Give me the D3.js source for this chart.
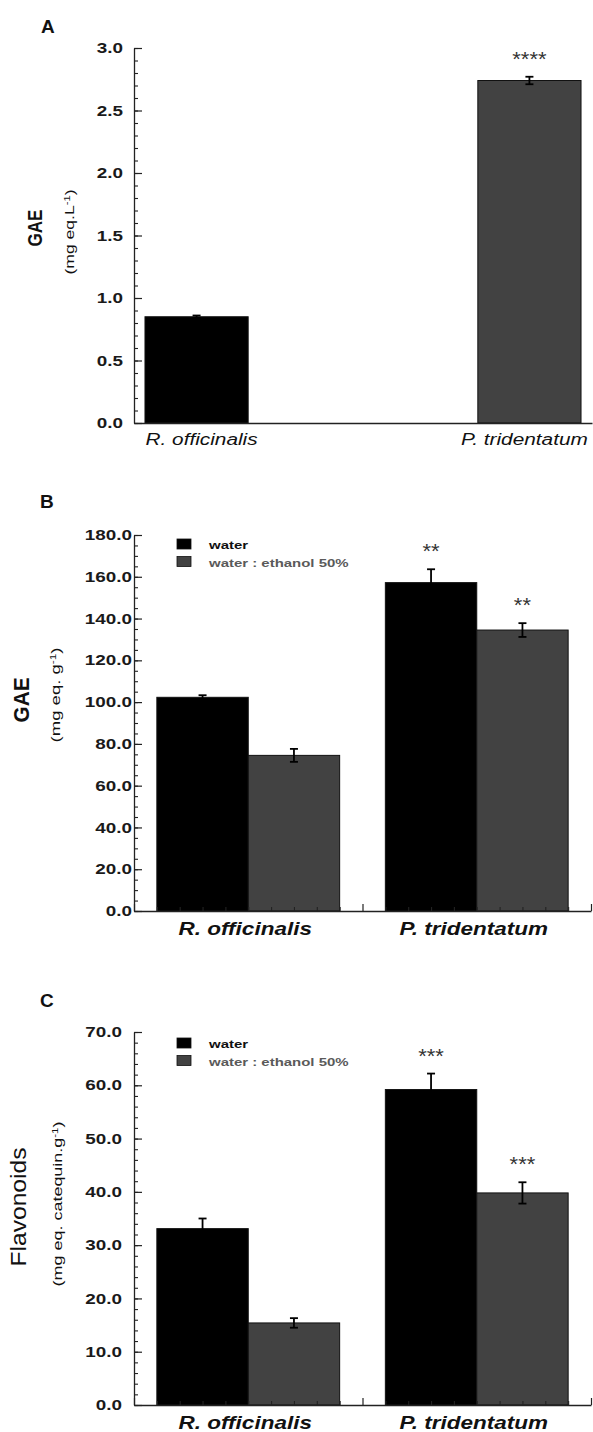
<!DOCTYPE html>
<html>
<head>
<meta charset="utf-8">
<script src="https://cdn.jsdelivr.net/npm/d3@7"></script>
<style>
  body { margin: 0; background: #fff; }
  svg { display: block; font-family: "Liberation Sans", Arial, sans-serif; }
</style>
</head>
<body>
<svg id="chart" width="593" height="1432"></svg>
<script>
// Categories
var species = ["R. officinalis", "P. tridentatum"];
var solvents = ["water", "water : ethanol 50%"];

// A: GAE, mg eq.L-1
var gaeL = [0.85, 2.74];
var gaeLErr = [0.01, 0.03];
var gaeLSig = ["", "****"];
var gaeLTicks = ["0.0", "0.5", "1.0", "1.5", "2.0", "2.5", "3.0"];

// B: GAE, mg eq. g-1
var gaeWater = [102.3, 157.2];
var gaeWaterErr = [1.0, 6.4];
var gaeEthanol = [74.5, 134.5];
var gaeEthanolErr = [3.1, 3.3];
var gaeWaterSig = ["", "**"];
var gaeEthanolSig = ["", "**"];
var gaeTicks = ["0.0", "20.0", "40.0", "60.0", "80.0", "100.0", "120.0", "140.0", "160.0", "180.0"];

// C: Flavonoids, mg eq. catequin.g-1
var flavWater = [33.1, 59.2];
var flavWaterErr = [1.9, 3.0];
var flavEthanol = [15.4, 39.8];
var flavEthanolErr = [0.9, 2.0];
var flavWaterSig = ["", "***"];
var flavEthanolSig = ["", "***"];
var flavTicks = ["0.0", "10.0", "20.0", "30.0", "40.0", "50.0", "60.0", "70.0"];

var colors = ["#000000", "#424242"];
var svg = d3.select("#chart");

// widen text horizontally (the original figure is stretched)
function stretch(sel, k) {
  sel.each(function() {
    var w = this.getComputedTextLength();
    d3.select(this).attr("textLength", w * k).attr("lengthAdjust", "spacingAndGlyphs");
  });
}

function panelLetter(t, x, y) {
  svg.append("text").attr("x", x).attr("y", y)
     .style("font-size", "19px").style("font-weight", "bold").attr("fill", "#111")
     .text(t);
}

// rotated y title: main word plus unit line with superscript -1
function yTitle(p) {
  var t = svg.append("text")
     .attr("transform", "translate(" + p.tx + "," + p.ty + ") scale(" + p.sx + ",1) rotate(-90)")
     .attr("text-anchor", "middle")
     .style("font-size", p.tsize + "px").style("font-weight", p.tweight)
     .attr("fill", "#111")
     .text(p.title);
  t.attr("textLength", p.tlen).attr("lengthAdjust", "spacingAndGlyphs");

  var u = svg.append("text")
     .attr("transform", "translate(" + p.ux + "," + p.uy + ") scale(1.2,1) rotate(-90)")
     .attr("text-anchor", "middle")
     .style("font-size", "11px").attr("fill", "#111");
  u.append("tspan").text(p.unit[0]);
  u.append("tspan").attr("baseline-shift", "super").style("font-size", "7px").text("-1");
  u.append("tspan").text(")");
  u.attr("textLength", p.ulen).attr("lengthAdjust", "spacingAndGlyphs");
}

function yAxis(y, p, ticks, minorStep) {
  var vals = ticks.map(Number);
  var max = d3.max(vals);
  var ax = svg.append("g").attr("transform", "translate(" + p.left + ",0)")
     .call(d3.axisLeft(y).tickValues(vals)
       .tickFormat(function(d, i) { return ticks[i]; })
       .tickSizeInner(-8).tickSizeOuter(0).tickPadding(p.gap));
  ax.select(".domain").attr("stroke", "#222").attr("stroke-width", 1.3);
  ax.selectAll(".tick line").attr("stroke", "#222").attr("stroke-width", 1.2);
  ax.selectAll(".tick text")
    .attr("fill", "#1a1a1a").attr("font-size", null).attr("font-family", null)
    .style("font-size", "14.5px").style("font-weight", "bold")
    .call(stretch, 1.3);
  ax.attr("font-size", null).attr("font-family", null);

  var minor = d3.range(0, max + minorStep / 2, minorStep);
  var mi = svg.append("g").attr("transform", "translate(" + p.left + ",0)")
     .call(d3.axisLeft(y).tickValues(minor).tickSize(-4).tickFormat(""));
  mi.select(".domain").remove();
  mi.selectAll(".tick line").attr("stroke", "#222").attr("stroke-width", 1.1);
}

function errorBars(g, rows, y) {
  var eb = g.selectAll("g.err").data(rows).enter().append("g").attr("class", "err")
     .attr("stroke", "#000").attr("stroke-width", 1.8);
  eb.append("line")
    .attr("x1", function(d) { return d.cx; }).attr("x2", function(d) { return d.cx; })
    .attr("y1", function(d) { return y(d.v - d.e); }).attr("y2", function(d) { return y(d.v + d.e); });
  eb.append("line")
    .attr("x1", function(d) { return d.cx - 4; }).attr("x2", function(d) { return d.cx + 4; })
    .attr("y1", function(d) { return y(d.v + d.e); }).attr("y2", function(d) { return y(d.v + d.e); });
  eb.append("line")
    .attr("x1", function(d) { return d.cx - 4; }).attr("x2", function(d) { return d.cx + 4; })
    .attr("y1", function(d) { return y(d.v - d.e); }).attr("y2", function(d) { return y(d.v - d.e); });

  g.selectAll("text.sig").data(rows.filter(function(d) { return d.sig; })).enter()
   .append("text").attr("class", "sig")
   .attr("x", function(d) { return d.cx; })
   .attr("y", function(d) { return y(d.v + d.e) - 11; })
   .attr("text-anchor", "middle").attr("fill", "#333")
   .style("font-size", "20px")
   .text(function(d) { return d.sig; })
   .call(stretch, 1.1);
}

// ---------- Panel A ----------
function drawA() {
  var p = {top: 48, bottom: 423, left: 134, right: 592, gap: 11};
  var y = d3.scaleLinear().domain([0, 3]).range([p.bottom, p.top]);
  var x = d3.scaleBand().domain(species).range([p.left, p.right])
            .paddingInner(0.69).paddingOuter(0.033);

  var rows = species.map(function(s, i) {
    return {sp: s, v: gaeL[i], e: gaeLErr[i], sig: gaeLSig[i], c: colors[i],
            cx: x(s) + x.bandwidth() / 2};
  });
  var g = svg.append("g");
  g.selectAll("rect").data(rows).enter().append("rect")
   .attr("x", function(d) { return x(d.sp); })
   .attr("y", function(d) { return y(d.v); })
   .attr("width", x.bandwidth())
   .attr("height", function(d) { return y(0) - y(d.v); })
   .attr("fill", function(d) { return d.c; })
   .attr("stroke", "#111").attr("stroke-width", 1);
  errorBars(g, rows, y);

  var xa = svg.append("g").attr("transform", "translate(0," + p.bottom + ")")
     .call(d3.axisBottom(x).tickValues([]).tickSizeOuter(0));
  xa.select(".domain").attr("stroke", "#222").attr("stroke-width", 1.3);

  yAxis(y, p, gaeLTicks, 0.1);

  svg.selectAll("text.xa").data(rows).enter().append("text").attr("class", "xa")
     .attr("x", function(d, i) { return d.cx + (i ? -5 : 5); }).attr("y", p.bottom + 22)
     .attr("text-anchor", "middle").attr("fill", "#111")
     .style("font-size", "16px").style("font-style", "italic")
     .text(function(d) { return d.sp; })
     .call(stretch, 1.3);

  panelLetter("A", 41, 33);
  yTitle({title: "GAE", tx: 42, ty: 228, sx: 1.3, tsize: 16, tweight: "bold", tlen: 37,
          unit: ["(mg eq.L"], ux: 74, uy: 232, ulen: 85});
}

// ---------- Panels B and C ----------
function drawGrouped(p) {
  var max = d3.max(p.ticks.map(Number));
  var y = d3.scaleLinear().domain([0, max]).range([p.bottom, p.top]);
  var x0 = d3.scaleBand().domain(species).range([p.left, p.right])
             .paddingInner(0.2).paddingOuter(0.1);
  var x1 = d3.scaleBand().domain(solvents).range([0, x0.bandwidth()]);

  var rows = [];
  species.forEach(function(s, i) {
    solvents.forEach(function(k, j) {
      rows.push({sp: s, sol: k, v: p.values[j][i], e: p.errs[j][i], sig: p.sigs[j][i],
                 c: colors[j], x: x0(s) + x1(k), cx: x0(s) + x1(k) + x1.bandwidth() / 2});
    });
  });

  var g = svg.append("g");
  g.selectAll("rect").data(rows).enter().append("rect")
   .attr("x", function(d) { return d.x; })
   .attr("y", function(d) { return y(d.v); })
   .attr("width", x1.bandwidth())
   .attr("height", function(d) { return y(0) - y(d.v); })
   .attr("fill", function(d) { return d.c; })
   .attr("stroke", "#111").attr("stroke-width", 1);
  errorBars(g, rows, y);

  // x axis: major ticks at band edges, minor at tenths, pointing up
  var xt = d3.scaleLinear().domain([0, species.length]).range([p.left, p.right]);
  var major = d3.range(0, species.length + 1);
  var minor = d3.range(1, species.length * 10).filter(function(d) { return d % 10; })
                .map(function(d) { return d / 10; });
  var xa = svg.append("g").attr("transform", "translate(0," + p.bottom + ")")
     .call(d3.axisBottom(xt).tickValues(major).tickSizeInner(-7).tickSizeOuter(0).tickFormat(""));
  xa.select(".domain").attr("stroke", "#222").attr("stroke-width", 1.3);
  xa.selectAll(".tick line").attr("stroke", "#222").attr("stroke-width", 1.2);
  var xm = svg.append("g").attr("transform", "translate(0," + p.bottom + ")")
     .call(d3.axisBottom(xt).tickValues(minor).tickSize(-4).tickFormat(""));
  xm.select(".domain").remove();
  xm.selectAll(".tick line").attr("stroke", "#222").attr("stroke-width", 1.1);

  yAxis(y, p, p.ticks, p.minorStep);

  svg.selectAll(null).data(species).enter().append("text")
     .attr("x", function(s) { return x0(s) + x0.bandwidth() / 2 - 3; })
     .attr("y", p.bottom + 24)
     .attr("text-anchor", "middle").attr("fill", "#111")
     .style("font-size", "18px").style("font-weight", "bold").style("font-style", "italic")
     .text(function(s) { return s; })
     .call(stretch, 1.25);

  // legend
  var lg = svg.append("g").attr("transform", "translate(177," + p.legendY + ")");
  var li = lg.selectAll("g").data(solvents).enter().append("g")
     .attr("transform", function(d, i) { return "translate(0," + i * 17.5 + ")"; });
  li.append("rect").attr("width", 14).attr("height", 10)
    .attr("fill", function(d, i) { return colors[i]; })
    .attr("stroke", "#111").attr("stroke-width", 0.8);
  li.append("text").attr("x", 32).attr("y", 10)
    .attr("fill", function(d, i) { return i ? "#5a5a5a" : "#111"; })
    .style("font-size", "11.5px").style("font-weight", "bold")
    .text(function(d) { return d; })
    .call(stretch, 1.3);

  panelLetter(p.letter, 40, p.letterY);
  yTitle(p.title);
}

drawA();

drawGrouped({
  top: 535, bottom: 911, left: 134, right: 591, gap: 2,
  ticks: gaeTicks, minorStep: 5,
  values: [gaeWater, gaeEthanol], errs: [gaeWaterErr, gaeEthanolErr],
  sigs: [gaeWaterSig, gaeEthanolSig],
  legendY: 539, letter: "B", letterY: 508,
  title: {title: "GAE", tx: 29, ty: 700, sx: 1.15, tsize: 19, tweight: "bold", tlen: 45,
          unit: ["(mg eq.  g"], ux: 60, uy: 695, ulen: 95}
});

drawGrouped({
  top: 1032, bottom: 1405, left: 134, right: 591, gap: 12,
  ticks: flavTicks, minorStep: 2,
  values: [flavWater, flavEthanol], errs: [flavWaterErr, flavEthanolErr],
  sigs: [flavWaterSig, flavEthanolSig],
  legendY: 1038, letter: "C", letterY: 1007,
  title: {title: "Flavonoids", tx: 26, ty: 1207, sx: 1.15, tsize: 19, tweight: "normal", tlen: 119,
          unit: ["(mg eq. catequin.g"], ux: 62, uy: 1204, ulen: 165}
});
</script>
</body>
</html>
